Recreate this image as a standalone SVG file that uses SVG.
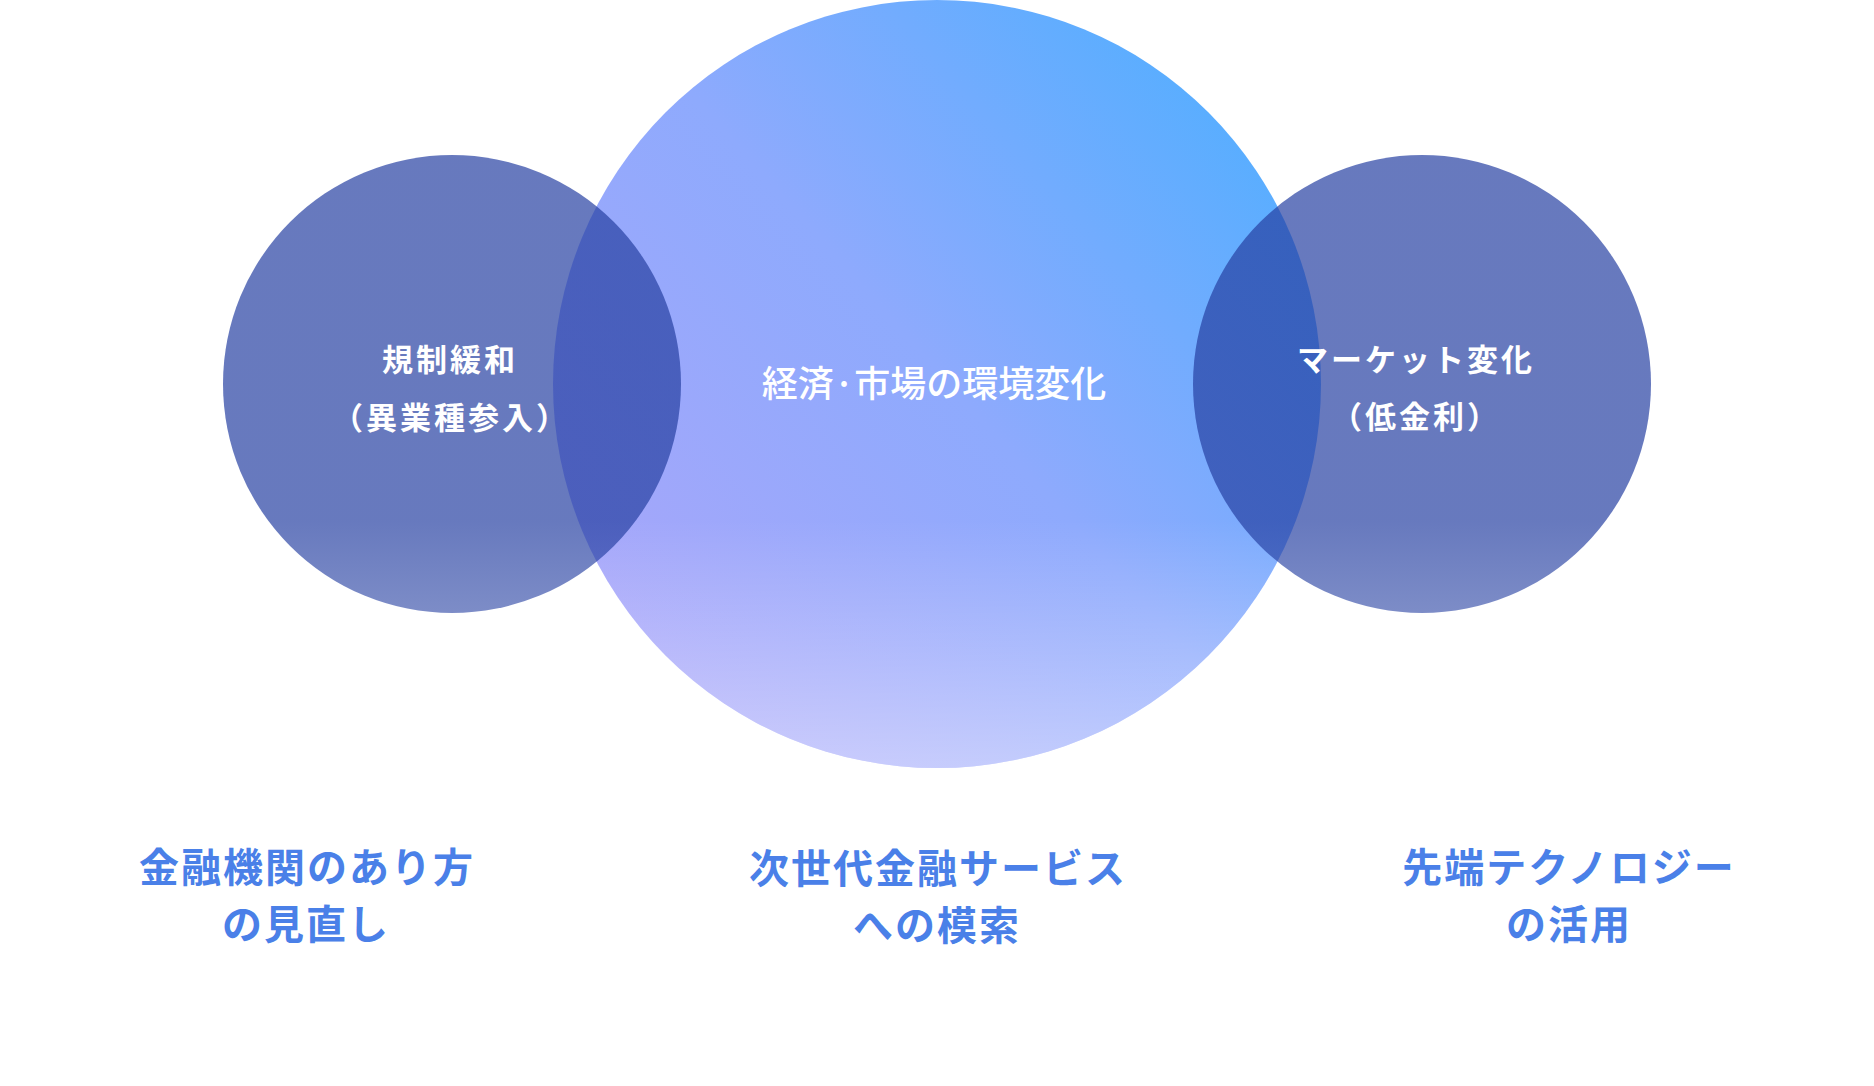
<svg xmlns="http://www.w3.org/2000/svg" width="1874" height="1086" viewBox="0 0 1874 1086">
  <defs>
    <linearGradient id="bigGrad" gradientUnits="userSpaceOnUse" x1="1260" y1="110" x2="640" y2="660">
      <stop offset="0" stop-color="#55AEFF"/>
      <stop offset="0.5" stop-color="#8EAAFD"/>
      <stop offset="1" stop-color="#A7A6FA"/>
    </linearGradient>
    <linearGradient id="bigFade" gradientUnits="userSpaceOnUse" x1="0" y1="520" x2="0" y2="768">
      <stop offset="0" stop-color="#FFFFFF" stop-opacity="0"/>
      <stop offset="1" stop-color="#FFFFFF" stop-opacity="0.42"/>
    </linearGradient>
    <linearGradient id="smallGrad" x1="0" y1="0" x2="0" y2="1">
      <stop offset="0" stop-color="#2640A2" stop-opacity="0.7"/>
      <stop offset="0.8" stop-color="#2640A2" stop-opacity="0.7"/>
      <stop offset="1" stop-color="#2640A2" stop-opacity="0.6"/>
    </linearGradient>
    <style>
      .inner { font-family: "Noto Sans CJK JP", "Noto Sans", sans-serif; fill: #FFFFFF; text-anchor: middle; }
      .small { font-size: 31px; font-weight: 700; letter-spacing: 3px; }
      .center { font-size: 36px; font-weight: 500; letter-spacing: 0px; }
      .label { font-family: "Noto Sans CJK JP", "Noto Sans", sans-serif; fill: #4A80E8; font-size: 40px; font-weight: 700; letter-spacing: 2px; text-anchor: middle; }
    </style>
  </defs>

  <g id="connectors"/>

  <g id="node-center">
    <circle cx="937" cy="384" r="384" fill="url(#bigGrad)"/>
    <circle cx="937" cy="384" r="384" fill="url(#bigFade)"/>
  </g>

  <g id="node-left">
    <circle cx="452" cy="384" r="229" fill="url(#smallGrad)"/>
  </g>

  <g id="node-right">
    <circle cx="1422" cy="384" r="229" fill="url(#smallGrad)"/>
  </g>

  <g id="node-left-text">
    <text class="inner small" x="450" y="371">規制緩和</text>
    <text class="inner small" x="451" y="429">（異業種参入）</text>
  </g>

  <g id="node-center-text">
    <text class="inner center" x="934" y="397">経済·市場の環境変化</text>
  </g>

  <g id="node-right-text">
    <text class="inner small" x="1416" y="371">マーケット変化</text>
    <text class="inner small" x="1416" y="428">（低金利）</text>
  </g>

  <g id="label-left">
    <text class="label" x="307" y="882">金融機関のあり方</text>
    <text class="label" x="306" y="939">の見直し</text>
  </g>

  <g id="label-center">
    <text class="label" x="938" y="883">次世代金融サービス</text>
    <text class="label" x="937" y="940">への模索</text>
  </g>

  <g id="label-right">
    <text class="label" x="1569" y="882">先端テクノロジー</text>
    <text class="label" x="1569" y="939">の活用</text>
  </g>
</svg>
